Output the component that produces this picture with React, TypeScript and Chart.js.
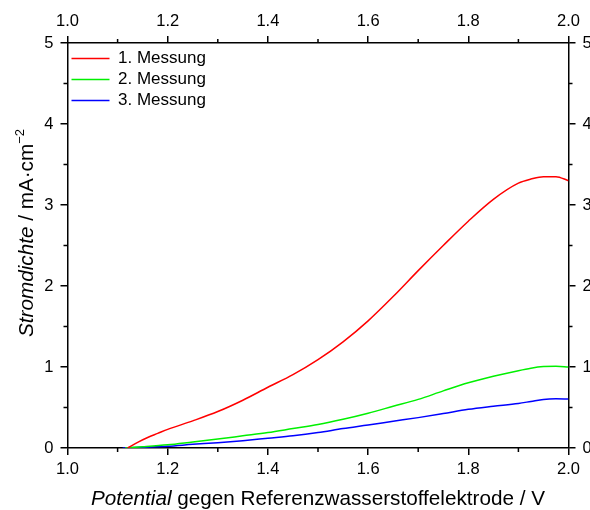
import React, { useEffect, useRef } from 'react';
import { Chart, registerables } from 'chart.js';

Chart.register(...registerables);

// ---- data ----
const seriesNames = ['1. Messung', '2. Messung', '3. Messung'];
const seriesColors = ['#ff0000', '#00f000', '#0000ff'];

const potential1 = [1.12, 1.14, 1.16, 1.18, 1.2, 1.25, 1.3, 1.35, 1.4, 1.45, 1.5, 1.55, 1.6, 1.65, 1.7, 1.75, 1.8, 1.85, 1.9, 1.925, 1.95, 1.975, 2.0];
const current1 = [0, 0.07, 0.13, 0.18, 0.23, 0.335, 0.45, 0.59, 0.75, 0.905, 1.09, 1.31, 1.57, 1.87, 2.19, 2.5, 2.8, 3.07, 3.27, 3.32, 3.35, 3.35, 3.3];

const potential2 = [1.115, 1.15, 1.2, 1.25, 1.3, 1.35, 1.4, 1.45, 1.5, 1.55, 1.6, 1.65, 1.7, 1.75, 1.8, 1.85, 1.9, 1.925, 1.95, 1.975, 2.0];
const current2 = [0, 0.015, 0.04, 0.075, 0.11, 0.15, 0.19, 0.24, 0.29, 0.355, 0.43, 0.515, 0.6, 0.705, 0.805, 0.885, 0.955, 0.985, 1.005, 1.01, 1.0];

const potential3 = [1.11, 1.15, 1.2, 1.25, 1.3, 1.35, 1.4, 1.45, 1.5, 1.55, 1.6, 1.65, 1.7, 1.75, 1.8, 1.85, 1.9, 1.925, 1.95, 1.975, 2.0];
const current3 = [0, 0.01, 0.022, 0.045, 0.065, 0.09, 0.12, 0.15, 0.19, 0.24, 0.284, 0.33, 0.375, 0.425, 0.477, 0.515, 0.55, 0.575, 0.6, 0.607, 0.605];

const xRange = [1.0, 2.0];
const xStep = 0.2;
const yRange = [0, 5];
const yStep = 1;

const FONT = "'Liberation Sans', Arial, Helvetica, sans-serif";

function toPoints(xs: number[], ys: number[]) {
  return xs.map((x, i) => ({ x, y: ys[i] }));
}

export default function App() {
  const ref = useRef<HTMLCanvasElement>(null);

  useEffect(() => {
    if (!ref.current) return;

    const minorTicks = {
      id: 'minorTicks',
      afterLayout(chart: any) {
        // keep the in-plot legend inside the chart area
        const l = chart.legend;
        if (l) {
          const h = l.bottom - l.top;
          l.top = chart.chartArea.top + 3;
          l.bottom = l.top + h;
          l.left = chart.chartArea.left;
        }
      },
      afterDraw(chart: any) {
        const ctx = chart.ctx;
        const a = chart.chartArea;
        const len = 4;
        ctx.save();
        ctx.strokeStyle = '#000';
        ctx.lineWidth = 1.5;
        ctx.beginPath();
        const xs = chart.scales.x;
        const xt = xs.ticks.map((t: any) => t.value);
        for (let i = 0; i < xt.length - 1; i++) {
          const px = xs.getPixelForValue((xt[i] + xt[i + 1]) / 2);
          ctx.moveTo(px, a.bottom);
          ctx.lineTo(px, a.bottom + len);
          ctx.moveTo(px, a.top);
          ctx.lineTo(px, a.top - len);
        }
        const ys = chart.scales.y;
        const yt = ys.ticks.map((t: any) => t.value);
        for (let i = 0; i < yt.length - 1; i++) {
          const py = ys.getPixelForValue((yt[i] + yt[i + 1]) / 2);
          ctx.moveTo(a.left, py);
          ctx.lineTo(a.left - len, py);
          ctx.moveTo(a.right, py);
          ctx.lineTo(a.right + len, py);
        }
        ctx.stroke();
        ctx.restore();
      },
    };

    const axis = (position: string, min: number, max: number, step: number, digits: number, padding: number, size: number) => ({
      type: 'linear',
      position,
      min,
      max,
      border: { display: true, color: '#000', width: 1.5 },
      grid: { drawOnChartArea: false, drawTicks: true, tickLength: 7, tickColor: '#000', tickWidth: 1.5, lineWidth: 1.5 },
      ticks: {
        stepSize: step,
        color: '#000',
        padding,
        maxRotation: 0,
        font: { family: FONT, size: 16.5 },
        callback: (v: any) => Number(v).toFixed(digits),
      },
      afterFit: (s: any) => {
        if (position === 'left' || position === 'right') s.width = size;
        else s.height = size;
      },
    });

    const chart = new Chart(ref.current, {
      type: 'line',
      data: {
        datasets: [
          { label: seriesNames[0], data: toPoints(potential1, current1), borderColor: seriesColors[0], backgroundColor: seriesColors[0] },
          { label: seriesNames[1], data: toPoints(potential2, current2), borderColor: seriesColors[1], backgroundColor: seriesColors[1] },
          { label: seriesNames[2], data: toPoints(potential3, current3), borderColor: seriesColors[2], backgroundColor: seriesColors[2] },
        ].map((d) => ({
          ...d,
          xAxisID: 'x',
          yAxisID: 'y',
          borderWidth: 1.5,
          pointRadius: 0,
          fill: false,
          cubicInterpolationMode: 'monotone',
        })),
      },
      options: {
        responsive: false,
        animation: false,
        devicePixelRatio: 1,
        layout: { padding: 0 },
        scales: {
          x: axis('bottom', xRange[0], xRange[1], xStep, 1, 5, 62),
          x2: axis('top', xRange[0], xRange[1], xStep, 1, 5, 43),
          y: axis('left', yRange[0], yRange[1], yStep, 0, 7, 67.5),
          y2: axis('right', yRange[0], yRange[1], yStep, 0, 7, 21.5),
        },
        plugins: {
          title: { display: false },
          tooltip: { enabled: false },
          legend: {
            position: 'chartArea',
            align: 'start',
            labels: {
              usePointStyle: true,
              pointStyle: 'line',
              pointStyleWidth: 38,
              color: '#000',
              padding: 4,
              font: { family: FONT, size: 17 },
            },
          },
        },
      } as any,
      plugins: [minorTicks],
    } as any);

    return () => chart.destroy();
  }, []);

  return (
    <div style={{ position: 'absolute', left: 0, top: 0, width: 590, height: 510, background: '#fff' }}>
      <canvas ref={ref} width={590} height={510} style={{ position: 'absolute', left: 0, top: 0 }} />
      <div
        style={{
          position: 'absolute',
          left: 67.5,
          width: 501,
          top: 488,
          height: 20,
          lineHeight: '20px',
          textAlign: 'center',
          fontFamily: FONT,
          fontSize: 20.7,
          color: '#000',
          whiteSpace: 'nowrap',
        }}
      >
        <i>Potential</i> gegen Referenzwasserstoffelektrode / V
      </div>
      <div
        style={{
          position: 'absolute',
          left: 26 - 150,
          top: 233 - 10,
          width: 300,
          height: 20,
          lineHeight: '20px',
          textAlign: 'center',
          fontFamily: FONT,
          fontSize: 20.7,
          color: '#000',
          whiteSpace: 'nowrap',
          transform: 'rotate(-90deg)',
        }}
      >
        <i>Stromdichte</i> / mA·cm<sup style={{ fontSize: 13, lineHeight: 0, verticalAlign: 0, position: 'relative', top: -9 }}>−2</sup>
      </div>
    </div>
  );
}
